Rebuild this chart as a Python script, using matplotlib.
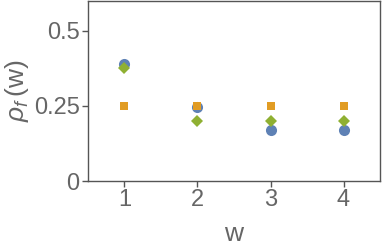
import matplotlib
matplotlib.use("Agg")
import matplotlib.pyplot as plt

# data
w = [1, 2, 3, 4]
rho_blue = [0.39, 0.245, 0.17, 0.17]
rho_orange = [0.25, 0.25, 0.25, 0.25]
rho_green = [0.375, 0.2, 0.2, 0.2]
yticks = [0, 0.25, 0.5]
ytick_labels = ["0", "0.25", "0.5"]

grey = "#666666"
plt.rcParams['font.family'] = ['Liberation Sans', 'DejaVu Sans']
plt.rcParams['mathtext.fontset'] = 'custom'
plt.rcParams['mathtext.it'] = 'Liberation Sans:italic'
plt.rcParams['mathtext.rm'] = 'Liberation Sans'

fig = plt.figure(figsize=(3.82, 2.49), dpi=100)
ax = fig.add_axes([0.230, 0.273, 0.765, 0.724])

ax.plot(w, rho_blue, 'o', color="#5E81B5", markersize=8, markeredgewidth=0)
ax.plot(w, rho_orange, 's', color="#E19C24", markersize=5.2, markeredgewidth=0)
ax.plot(w, rho_green, 'D', color="#8FB032", markersize=6.3, markeredgewidth=0)

ax.set_xlim(0.5, 4.5)
ax.set_ylim(0, 0.6)
ax.set_xticks(w)
ax.set_yticks(yticks)
ax.set_yticklabels(ytick_labels)

for s in ax.spines.values():
    s.set_color("#555555")
    s.set_linewidth(1.0)

ax.tick_params(direction='out', length=4, width=1, color="#555555",
               labelcolor=grey, labelsize=17, pad=2)

ax.set_xlabel("w", color=grey, fontsize=19, labelpad=8)
ax.set_ylabel(r"$\rho_f\,$(w)", color=grey, fontsize=19, labelpad=2)

fig.savefig("out.png", dpi=100)
